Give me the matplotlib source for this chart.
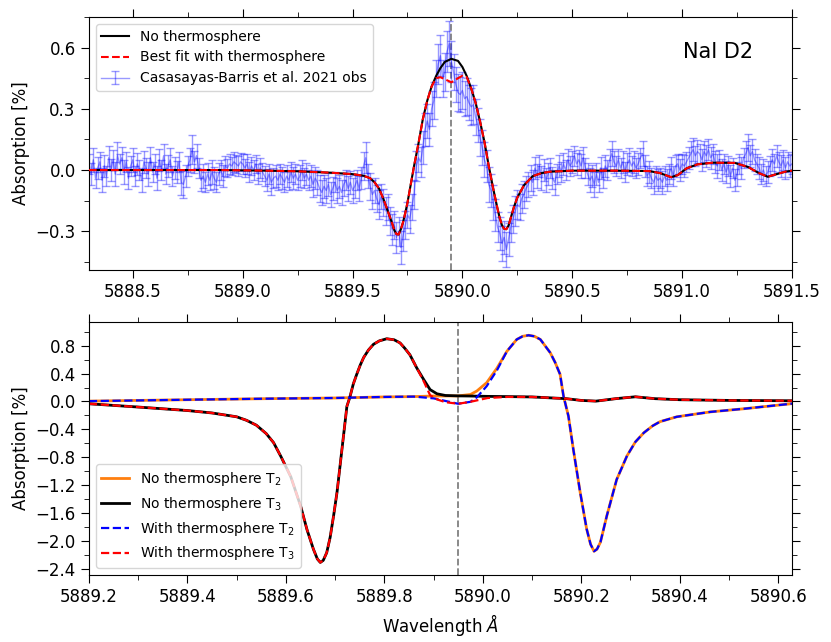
import numpy as np
import matplotlib.pyplot as plt
from matplotlib.ticker import MultipleLocator

# ---- top panel: observed NaI D2 transmission (0.01 A steps from 5888.30) ----
obs_start = 5888.30
obs_step = 0.01
obs_flux = [
    0.03, -0.02, 0.05, -0.04, 0.01, 0.04, -0.05, 0.02, -0.03, 0.06,
    0.00, 0.05, -0.02, 0.07, 0.03, 0.06, -0.01, 0.04, -0.04, 0.02,
    0.05, -0.03, 0.03, 0.00, -0.05, 0.04, 0.01, -0.02, 0.06, -0.01,
    0.03, -0.04, 0.05, 0.00, 0.07, -0.02, 0.02, 0.05, -0.03, 0.01,
    -0.01, 0.04, -0.06, -0.07, -0.03, 0.02, 0.05, 0.10, 0.04, 0.07,
    0.01, -0.05, -0.03, -0.06, -0.02, -0.05, -0.01, -0.04, -0.06, -0.02,
    0.00, -0.03, 0.02, 0.01, 0.03, 0.02, 0.04, 0.03, 0.02, 0.04,
    0.03, 0.01, 0.03, -0.01, 0.02, 0.00, 0.03, -0.02, 0.01, -0.01,
    -0.03, -0.05, -0.02, -0.06, -0.04, -0.03, -0.05, -0.02, -0.04, -0.06,
    -0.03, -0.05, -0.01, -0.04, -0.02, -0.05, -0.03, 0.00, -0.04, -0.02,
    -0.05, -0.03, -0.07, -0.04, -0.06, -0.09, -0.11, -0.08, -0.10, -0.07,
    -0.12, -0.09, -0.06, -0.10, -0.08, -0.11, -0.07, -0.05, -0.09, -0.06,
    -0.10, -0.08, -0.05, -0.09, -0.04, 0.02, 0.06, -0.03, -0.08, -0.12,
    -0.10, -0.14, -0.17, -0.13, -0.16, -0.20, -0.18, -0.25, -0.29, -0.27,
    -0.33, -0.30, -0.38, -0.32, -0.27, -0.22, -0.24, -0.18, -0.12, 0.02,
    0.06, 0.04, 0.11, 0.20, 0.24, 0.20, 0.30, 0.34, 0.45, 0.52,
    0.56, 0.45, 0.48, 0.58, 0.62, 0.53, 0.48, 0.42, 0.38, 0.37,
    0.39, 0.35, 0.36, 0.33, 0.31, 0.32, 0.26, 0.22, 0.16, 0.11,
    0.05, 0.02, -0.07, -0.10, -0.16, -0.22, -0.28, -0.31, -0.36, -0.33,
    -0.39, -0.34, -0.28, -0.24, -0.20, -0.17, -0.18, -0.14, -0.12, -0.09,
    -0.07, -0.04, -0.06, 0.01, -0.03, 0.02, -0.04, 0.00, -0.05, -0.02,
    0.01, -0.04, -0.06, -0.02, 0.02, -0.01, 0.03, 0.00, 0.05, 0.02,
    0.04, 0.07, 0.03, 0.05, 0.02, 0.06, 0.01, -0.02, -0.05, -0.03,
    -0.07, -0.02, -0.06, 0.01, -0.04, 0.02, 0.00, 0.05, 0.08, 0.04,
    0.02, 0.05, 0.01, 0.04, -0.01, 0.03, 0.05, 0.02, 0.04, 0.01,
    0.03, 0.06, 0.08, 0.02, -0.03, -0.01, -0.04, -0.06, -0.03, -0.05,
    -0.04, -0.06, -0.03, -0.05, -0.02, 0.01, -0.03, 0.02, 0.03, 0.00,
    0.03, 0.02, 0.04, 0.06, 0.08, 0.10, 0.07, 0.09, 0.08, 0.05,
    0.09, 0.07, 0.10, 0.06, 0.08, 0.04, 0.02, 0.05, 0.00, 0.03,
    -0.01, 0.02, -0.03, 0.01, -0.05, -0.02, 0.03, 0.01, 0.06, 0.08,
    0.11, 0.07, 0.09, 0.05, 0.03, 0.01, -0.02, 0.00, -0.03, -0.01,
    0.02, 0.05, 0.03, 0.07, 0.04, 0.02, 0.05, 0.01, 0.04, 0.02,
    0.03,
]
obs_err = [
    0.05, 0.055, 0.06, 0.05, 0.055, 0.05, 0.06, 0.055, 0.05, 0.06,
    0.055, 0.05, 0.06, 0.065, 0.05, 0.055, 0.06, 0.05, 0.055, 0.05,
    0.06, 0.05, 0.055, 0.05, 0.06, 0.055, 0.05, 0.06, 0.055, 0.05,
    0.05, 0.06, 0.055, 0.05, 0.06, 0.05, 0.055, 0.06, 0.05, 0.055,
    0.055, 0.05, 0.06, 0.065, 0.055, 0.05, 0.06, 0.07, 0.055, 0.06,
    0.05, 0.055, 0.06, 0.05, 0.055, 0.05, 0.06, 0.055, 0.05, 0.055,
    0.05, 0.055, 0.05, 0.045, 0.05, 0.045, 0.05, 0.045, 0.05, 0.045,
    0.05, 0.045, 0.05, 0.05, 0.045, 0.05, 0.045, 0.05, 0.05, 0.045,
    0.05, 0.055, 0.05, 0.06, 0.05, 0.055, 0.05, 0.05, 0.055, 0.05,
    0.055, 0.05, 0.05, 0.055, 0.05, 0.05, 0.055, 0.05, 0.05, 0.055,
    0.05, 0.055, 0.06, 0.055, 0.06, 0.065, 0.06, 0.055, 0.06, 0.055,
    0.06, 0.055, 0.05, 0.06, 0.055, 0.06, 0.055, 0.05, 0.06, 0.055,
    0.06, 0.055, 0.05, 0.06, 0.055, 0.07, 0.075, 0.06, 0.065, 0.07,
    0.06, 0.065, 0.07, 0.06, 0.065, 0.07, 0.065, 0.07, 0.075, 0.07,
    0.075, 0.07, 0.08, 0.075, 0.07, 0.065, 0.07, 0.065, 0.07, 0.075,
    0.07, 0.075, 0.08, 0.08, 0.085, 0.08, 0.085, 0.09, 0.09, 0.10,
    0.10, 0.09, 0.095, 0.10, 0.11, 0.10, 0.09, 0.085, 0.09, 0.085,
    0.09, 0.085, 0.09, 0.085, 0.09, 0.095, 0.09, 0.085, 0.09, 0.085,
    0.085, 0.08, 0.085, 0.08, 0.085, 0.08, 0.075, 0.08, 0.085, 0.08,
    0.085, 0.08, 0.075, 0.07, 0.075, 0.07, 0.065, 0.07, 0.065, 0.06,
    0.06, 0.065, 0.06, 0.055, 0.06, 0.055, 0.06, 0.055, 0.06, 0.055,
    0.05, 0.055, 0.06, 0.05, 0.055, 0.05, 0.055, 0.05, 0.055, 0.05,
    0.055, 0.05, 0.055, 0.05, 0.06, 0.055, 0.05, 0.055, 0.06, 0.055,
    0.06, 0.055, 0.05, 0.055, 0.05, 0.055, 0.05, 0.055, 0.06, 0.055,
    0.05, 0.055, 0.05, 0.055, 0.05, 0.055, 0.06, 0.05, 0.055, 0.05,
    0.055, 0.05, 0.06, 0.055, 0.05, 0.055, 0.05, 0.055, 0.05, 0.055,
    0.05, 0.055, 0.05, 0.055, 0.05, 0.055, 0.05, 0.055, 0.05, 0.055,
    0.05, 0.055, 0.05, 0.055, 0.06, 0.055, 0.05, 0.055, 0.05, 0.055,
    0.05, 0.055, 0.05, 0.055, 0.05, 0.055, 0.06, 0.05, 0.055, 0.05,
    0.055, 0.05, 0.055, 0.05, 0.055, 0.06, 0.05, 0.055, 0.05, 0.06,
    0.065, 0.055, 0.06, 0.055, 0.05, 0.055, 0.05, 0.055, 0.05, 0.055,
    0.05, 0.055, 0.05, 0.055, 0.05, 0.055, 0.05, 0.055, 0.05, 0.055,
    0.05,
]

# model without thermosphere and best fit with thermosphere
mod_wave = [5888.30, 5888.60, 5888.90, 5889.10, 5889.25, 5889.40, 5889.50, 5889.55,
            5889.58, 5889.60, 5889.62, 5889.64, 5889.66, 5889.68, 5889.69, 5889.70,
            5889.71, 5889.72, 5889.73, 5889.74, 5889.75, 5889.76, 5889.78, 5889.80,
            5889.82, 5889.84, 5889.86, 5889.88, 5889.90, 5889.92, 5889.95, 5889.98,
            5890.00, 5890.02, 5890.04, 5890.06, 5890.08, 5890.10, 5890.12, 5890.14,
            5890.16, 5890.17, 5890.18, 5890.19, 5890.20, 5890.21, 5890.22, 5890.235,
            5890.25, 5890.28, 5890.32, 5890.36, 5890.40, 5890.50, 5890.70, 5890.85,
            5890.90, 5890.95, 5890.98, 5891.02, 5891.07, 5891.14, 5891.24, 5891.30,
            5891.35, 5891.39, 5891.43, 5891.47, 5891.50]
no_thermo = [0.0, 0.0, 0.0, -0.003, -0.006, -0.013, -0.02, -0.028,
             -0.04, -0.06, -0.09, -0.14, -0.20, -0.26, -0.295, -0.314,
             -0.316, -0.29, -0.255, -0.21, -0.16, -0.10, 0.02, 0.13,
             0.25, 0.34, 0.41, 0.46, 0.50, 0.53, 0.545, 0.535,
             0.505, 0.46, 0.40, 0.33, 0.24, 0.14, 0.02, -0.09,
             -0.19, -0.235, -0.27, -0.288, -0.29, -0.272, -0.235, -0.18,
             -0.135, -0.075, -0.03, -0.015, -0.008, -0.003, -0.003, -0.005,
             -0.015, -0.035, -0.025, 0.008, 0.028, 0.036, 0.035, 0.015,
             -0.015, -0.033, -0.02, -0.008, -0.003]
best_fit = [0.0, 0.0, 0.0, -0.003, -0.006, -0.013, -0.02, -0.028,
            -0.04, -0.06, -0.09, -0.14, -0.20, -0.26, -0.295, -0.314,
            -0.316, -0.29, -0.255, -0.21, -0.16, -0.10, 0.02, 0.13,
            0.25, 0.34, 0.41, 0.45, 0.455, 0.445, 0.43, 0.45,
            0.462, 0.455, 0.40, 0.33, 0.24, 0.14, 0.02, -0.09,
            -0.19, -0.235, -0.27, -0.288, -0.29, -0.272, -0.235, -0.18,
            -0.135, -0.075, -0.03, -0.015, -0.008, -0.003, -0.003, -0.005,
            -0.015, -0.035, -0.025, 0.008, 0.028, 0.036, 0.035, 0.015,
            -0.015, -0.033, -0.02, -0.008, -0.003]

# ---- bottom panel: T2 / T3 model components ----
t3_wave = [5889.20, 5889.30, 5889.40, 5889.45, 5889.50, 5889.52, 5889.54, 5889.56,
           5889.575, 5889.59, 5889.61, 5889.63, 5889.643, 5889.656, 5889.664, 5889.67,
           5889.676, 5889.683, 5889.69, 5889.697, 5889.704, 5889.71, 5889.717, 5889.724,
           5889.73, 5889.737, 5889.744, 5889.751, 5889.758, 5889.768, 5889.778, 5889.79,
           5889.805, 5889.82, 5889.832, 5889.842, 5889.852, 5889.866, 5889.88, 5889.893,
           5889.907, 5889.924, 5889.95, 5889.975, 5890.01, 5890.05, 5890.10, 5890.17,
           5890.20, 5890.23, 5890.27, 5890.31, 5890.35, 5890.40, 5890.50, 5890.63]
no_thermo_t3 = [-0.033, -0.08, -0.13, -0.165, -0.22, -0.27, -0.34, -0.46,
                -0.59, -0.79, -1.08, -1.50, -1.84, -2.12, -2.26, -2.31,
                -2.28, -2.17, -1.95, -1.64, -1.30, -0.93, -0.50, -0.07,
                0.06, 0.25, 0.39, 0.52, 0.63, 0.74, 0.82, 0.87,
                0.90, 0.885, 0.84, 0.76, 0.67, 0.48, 0.315, 0.17,
                0.11, 0.086, 0.08, 0.078, 0.073, 0.07, 0.065, 0.04,
                0.015, 0.005, 0.04, 0.067, 0.04, 0.025, 0.015, 0.01]
with_thermo_t3 = [-0.033, -0.08, -0.13, -0.165, -0.22, -0.27, -0.34, -0.46,
                  -0.59, -0.79, -1.08, -1.50, -1.84, -2.12, -2.26, -2.31,
                  -2.28, -2.17, -1.95, -1.64, -1.30, -0.93, -0.50, -0.07,
                  0.06, 0.25, 0.39, 0.52, 0.63, 0.74, 0.82, 0.87,
                  0.90, 0.885, 0.84, 0.76, 0.67, 0.48, 0.29, 0.09,
                  0.03, -0.01, -0.033, -0.005, 0.05, 0.065, 0.065, 0.04,
                  0.015, 0.005, 0.04, 0.067, 0.04, 0.025, 0.015, 0.01]

t2_wave = [5889.20, 5889.40, 5889.56, 5889.70, 5889.80, 5889.86, 5889.90, 5889.95,
           5889.975, 5889.988, 5890.008, 5890.029, 5890.049, 5890.069, 5890.081, 5890.093,
           5890.105, 5890.117, 5890.137, 5890.147, 5890.157, 5890.164, 5890.174, 5890.184,
           5890.198, 5890.211, 5890.219, 5890.226, 5890.232, 5890.239, 5890.252, 5890.272,
           5890.293, 5890.31, 5890.327, 5890.345, 5890.36, 5890.394, 5890.462, 5890.53,
           5890.63]
no_thermo_t2 = [0.005, 0.025, 0.04, 0.05, 0.065, 0.07, 0.078, 0.08,
                0.10, 0.15, 0.27, 0.48, 0.72, 0.89, 0.935, 0.95,
                0.935, 0.89, 0.70, 0.56, 0.39, 0.076, -0.21, -0.69,
                -1.31, -1.83, -2.05, -2.15, -2.12, -2.02, -1.64, -1.12,
                -0.78, -0.58, -0.45, -0.35, -0.29, -0.22, -0.15, -0.105,
                -0.03]
with_thermo_t2 = [0.005, 0.025, 0.04, 0.05, 0.065, 0.07, 0.045, -0.033,
                  -0.005, 0.06, 0.22, 0.45, 0.72, 0.89, 0.935, 0.95,
                  0.935, 0.89, 0.70, 0.56, 0.39, 0.076, -0.21, -0.69,
                  -1.31, -1.83, -2.05, -2.15, -2.12, -2.02, -1.64, -1.12,
                  -0.78, -0.58, -0.45, -0.35, -0.29, -0.22, -0.15, -0.105,
                  -0.03]

line_center = 5889.95

obs_wave = obs_start + obs_step * np.arange(len(obs_flux))

fig = plt.figure(figsize=(8.31, 6.42), dpi=100)
ax1 = fig.add_axes([0.107, 0.5794, 0.846, 0.3941])
ax2 = fig.add_axes([0.107, 0.1044, 0.846, 0.394])

# top panel
ax1.plot(mod_wave, no_thermo, color='black', lw=1.5, label='No thermosphere', zorder=3)
ax1.plot(mod_wave, best_fit, color='red', ls='--', lw=1.5,
         label='Best fit with thermosphere', zorder=4)
ax1.errorbar(obs_wave, obs_flux, yerr=obs_err, color='blue', alpha=0.4, lw=1,
             capsize=3, label='Casasayas-Barris et al. 2021 obs', zorder=2)
ax1.axvline(line_center, color='grey', ls='--', lw=1.3, zorder=1)
ax1.set_xlim(5888.3, 5891.5)
ax1.set_ylim(-0.49, 0.75)
ax1.xaxis.set_major_locator(MultipleLocator(0.5))
ax1.xaxis.set_minor_locator(MultipleLocator(0.25))
ax1.yaxis.set_major_locator(MultipleLocator(0.3))
ax1.yaxis.set_minor_locator(MultipleLocator(0.15))
ax1.set_ylabel('Absorption [%]', fontsize=12)
ax1.text(0.895, 0.86, 'NaI D2', transform=ax1.transAxes, ha='center', va='center',
         fontsize=15)
ax1.legend(loc='upper left', fontsize=10)

# bottom panel
ax2.plot(t2_wave, no_thermo_t2, color='#ff7f0e', lw=2, label='No thermosphere T$_2$')
ax2.plot(t3_wave, no_thermo_t3, color='black', lw=2, label='No thermosphere T$_3$')
ax2.plot(t2_wave, with_thermo_t2, color='blue', ls='--', lw=1.6,
         label='With thermosphere T$_2$')
ax2.plot(t3_wave, with_thermo_t3, color='red', ls='--', lw=1.6,
         label='With thermosphere T$_3$')
ax2.axvline(line_center, color='grey', ls='--', lw=1.3, zorder=1)
ax2.set_xlim(5889.2, 5890.628)
ax2.set_ylim(-2.49, 1.14)
ax2.xaxis.set_major_locator(MultipleLocator(0.2))
ax2.xaxis.set_minor_locator(MultipleLocator(0.1))
ax2.yaxis.set_major_locator(MultipleLocator(0.4))
ax2.yaxis.set_minor_locator(MultipleLocator(0.2))
ax2.set_ylabel('Absorption [%]', fontsize=12)
ax2.set_xlabel(r'Wavelength $\AA$', fontsize=12)
ax2.legend(loc='lower left', fontsize=10)

for ax in (ax1, ax2):
    ax.ticklabel_format(useOffset=False, axis='x')
    ax.tick_params(which='both', direction='out', top=True, right=True,
                   labelsize=12)
    ax.tick_params(which='major', length=6)
    ax.tick_params(which='minor', length=3.5)

fig.savefig('out.png', dpi=100)
